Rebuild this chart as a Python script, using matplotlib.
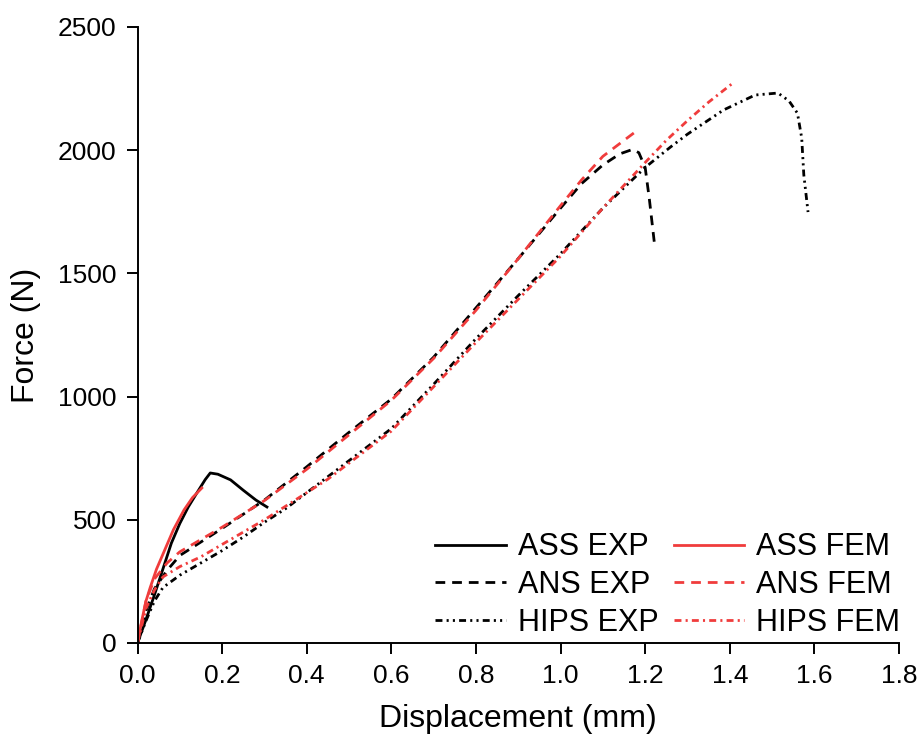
import matplotlib
matplotlib.use("Agg")
import matplotlib.pyplot as plt

plt.rcParams['font.family'] = ['Liberation Sans', 'DejaVu Sans']
plt.rcParams['lines.scale_dashes'] = False

# Curve data (displacement in mm, force in N)
ass_exp_x = [0, 0.02, 0.04, 0.06, 0.08, 0.1, 0.12, 0.14, 0.16, 0.172, 0.19, 0.22, 0.25, 0.28, 0.306]
ass_exp_y = [0, 95, 195, 300, 405, 485, 552, 608, 663, 690, 685, 662, 620, 580, 552]

ass_fem_x = [0, 0.01, 0.02, 0.03, 0.045, 0.06, 0.085, 0.11, 0.13, 0.152]
ass_fem_y = [0, 90, 170, 225, 300, 360, 460, 540, 590, 629]

ans_exp_x = [0, 0.02, 0.04, 0.07, 0.1, 0.15, 0.2, 0.3, 0.4, 0.5, 0.6, 0.7, 0.8, 0.9,
             1.0, 1.05, 1.1, 1.14, 1.17, 1.185, 1.2, 1.21, 1.222]
ans_exp_y = [0, 130, 220, 295, 355, 410, 465, 580, 715, 855, 990, 1160, 1360, 1560,
             1765, 1865, 1940, 1985, 2003, 1990, 1930, 1800, 1620]

ans_fem_x = [0, 0.02, 0.04, 0.07, 0.1, 0.15, 0.2, 0.3, 0.4, 0.5, 0.6, 0.7, 0.8, 0.9,
             1.0, 1.05, 1.1, 1.15, 1.185]
ans_fem_y = [0, 170, 260, 325, 370, 420, 470, 578, 705, 845, 985, 1155, 1350, 1560,
             1775, 1880, 1975, 2040, 2085]

hips_exp_x = [0, 0.02, 0.04, 0.06, 0.1, 0.15, 0.2, 0.25, 0.3, 0.35, 0.45, 0.6, 0.7, 0.8,
              0.9, 1.0, 1.1, 1.2, 1.26, 1.3, 1.385, 1.46, 1.514, 1.54, 1.56, 1.57, 1.575, 1.585]
hips_exp_y = [0, 90, 170, 225, 275, 325, 375, 430, 490, 545, 675, 870, 1050, 1235,
              1410, 1580, 1765, 1930, 2013, 2065, 2163, 2224, 2232, 2200, 2150, 2050, 1900, 1749]

hips_fem_x = [0, 0.02, 0.04, 0.06, 0.1, 0.15, 0.2, 0.25, 0.3, 0.45, 0.6, 0.8, 1.0, 1.1,
              1.2, 1.25, 1.3, 1.35, 1.407]
hips_fem_y = [0, 140, 215, 268, 310, 350, 400, 450, 500, 665, 860, 1220, 1570, 1765,
              1950, 2040, 2120, 2195, 2272]

x_ticks = [0.0, 0.2, 0.4, 0.6, 0.8, 1.0, 1.2, 1.4, 1.6, 1.8]
y_ticks = [0, 500, 1000, 1500, 2000, 2500]

RED = '#f03c3c'
LW = 2.0

fig = plt.figure(figsize=(9.21, 7.37), dpi=100)
ax = fig.add_axes([137.5 / 921, 94 / 737, (899 - 137.5) / 921, (643 - 27) / 737])

ax.plot(ass_exp_x, ass_exp_y, color='black', lw=LW, label='ASS EXP')
ax.plot(ans_exp_x, ans_exp_y, color='black', lw=LW, dashes=(7, 5), label='ANS EXP')
ax.plot(hips_exp_x, hips_exp_y, color='black', lw=LW, dashes=(5, 3, 1.5, 3, 1.5, 3), label='HIPS EXP')
ax.plot(ass_fem_x, ass_fem_y, color=RED, lw=LW, label='ASS FEM')
ax.plot(ans_fem_x, ans_fem_y, color=RED, lw=LW, dashes=(7, 5), label='ANS FEM')
ax.plot(hips_fem_x, hips_fem_y, color=RED, lw=LW, dashes=(5, 3, 1.5, 3), label='HIPS FEM')

ax.set_xlim(0, 1.8)
ax.set_ylim(0, 2500)
ax.set_xticks(x_ticks)
ax.set_xticklabels([f"{t:.1f}" for t in x_ticks])
ax.set_yticks(y_ticks)

for side in ['top', 'right']:
    ax.spines[side].set_visible(False)
for side in ['left', 'bottom']:
    ax.spines[side].set_linewidth(1.4)

ax.tick_params(direction='out', length=8, width=1.4, labelsize=19, pad=7)

ax.set_xlabel('Displacement (mm)', fontsize=23, labelpad=12)
ax.set_ylabel('Force (N)', fontsize=23, labelpad=12)

ax.legend(ncol=2, frameon=False, fontsize=22, loc='lower left',
          bbox_to_anchor=(420 / 921, 84 / 737), bbox_transform=fig.transFigure,
          handlelength=2.3, handletextpad=0.4, columnspacing=0.5,
          labelspacing=0.25, borderpad=0)

fig.savefig('out.png', dpi=100)
